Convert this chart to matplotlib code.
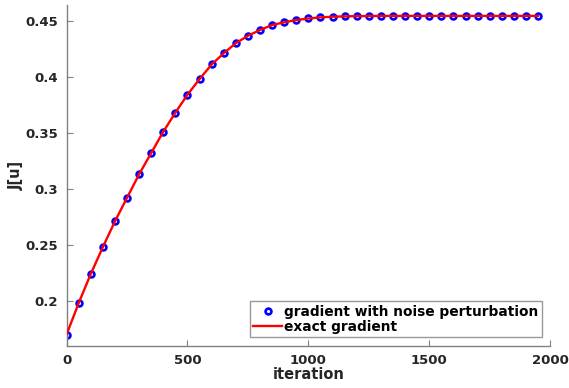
import numpy as np
import matplotlib.pyplot as plt

plt.rcParams['font.family'] = 'DejaVu Sans'
plt.rcParams['font.weight'] = 'bold'

# values (every 50 iterations)
iters = np.arange(0, 2000, 50)
J_exact = [0.170, 0.198, 0.224, 0.248, 0.271, 0.292, 0.313, 0.332, 0.351, 0.368,
           0.384, 0.398, 0.411, 0.421, 0.430, 0.4366, 0.4417, 0.4462, 0.4486, 0.4506,
           0.4520, 0.4530, 0.4536, 0.4539, 0.4541, 0.4542, 0.4543, 0.4543, 0.4543, 0.4543,
           0.4543, 0.4543, 0.4543, 0.4543, 0.4543, 0.4543, 0.4543, 0.4543, 0.4543, 0.4543]
J_noise = J_exact

yticks = [0.2, 0.25, 0.3, 0.35, 0.4, 0.45]
ytick_labels = ['0.2', '0.25', '0.3', '0.35', '0.4', '0.45']
xticks = [0, 500, 1000, 1500, 2000]

fig = plt.figure(figsize=(5.69, 3.88), dpi=100)
ax = fig.add_axes([0.117, 0.109, 0.850, 0.878])

ax.plot(iters, J_noise, 'o', color='#0000ff', markerfacecolor='white',
        markeredgewidth=1.9, markersize=4.2, label='gradient with noise perturbation', zorder=2)
ax.plot(iters, J_exact, '-', color='#ff0000', linewidth=1.7, label='exact gradient', zorder=3)

ax.set_xlim(0, 2000)
ax.set_ylim(0.16, 0.464)
ax.set_xticks(xticks)
ax.set_yticks(yticks)
ax.set_yticklabels(ytick_labels)

for s in ['top', 'right']:
    ax.spines[s].set_visible(False)
for s in ['left', 'bottom']:
    ax.spines[s].set_color('#808080')
    ax.spines[s].set_linewidth(1)
ax.tick_params(direction='in', length=4, color='#808080', labelsize=9.5,
               labelcolor='#262626', pad=6)
for lab in ax.get_xticklabels() + ax.get_yticklabels():
    lab.set_fontweight('bold')

ax.set_xlabel('iteration', fontsize=10.5, fontweight='bold', color='#262626', labelpad=0)
ax.set_ylabel('J[u]', fontsize=10.5, fontweight='bold', color='#262626', labelpad=1)

leg = ax.legend(loc='lower right', frameon=True, fancybox=False,
                borderpad=0.25, handlelength=2.1, handletextpad=0.15, labelspacing=0.1,
                borderaxespad=0.6, prop={'weight': 'bold', 'size': 9.9})
leg.get_frame().set_edgecolor('#808080')
leg.get_frame().set_linewidth(1)
for t in leg.get_texts():
    t.set_color('#000000')

fig.savefig('out.png', dpi=100)
